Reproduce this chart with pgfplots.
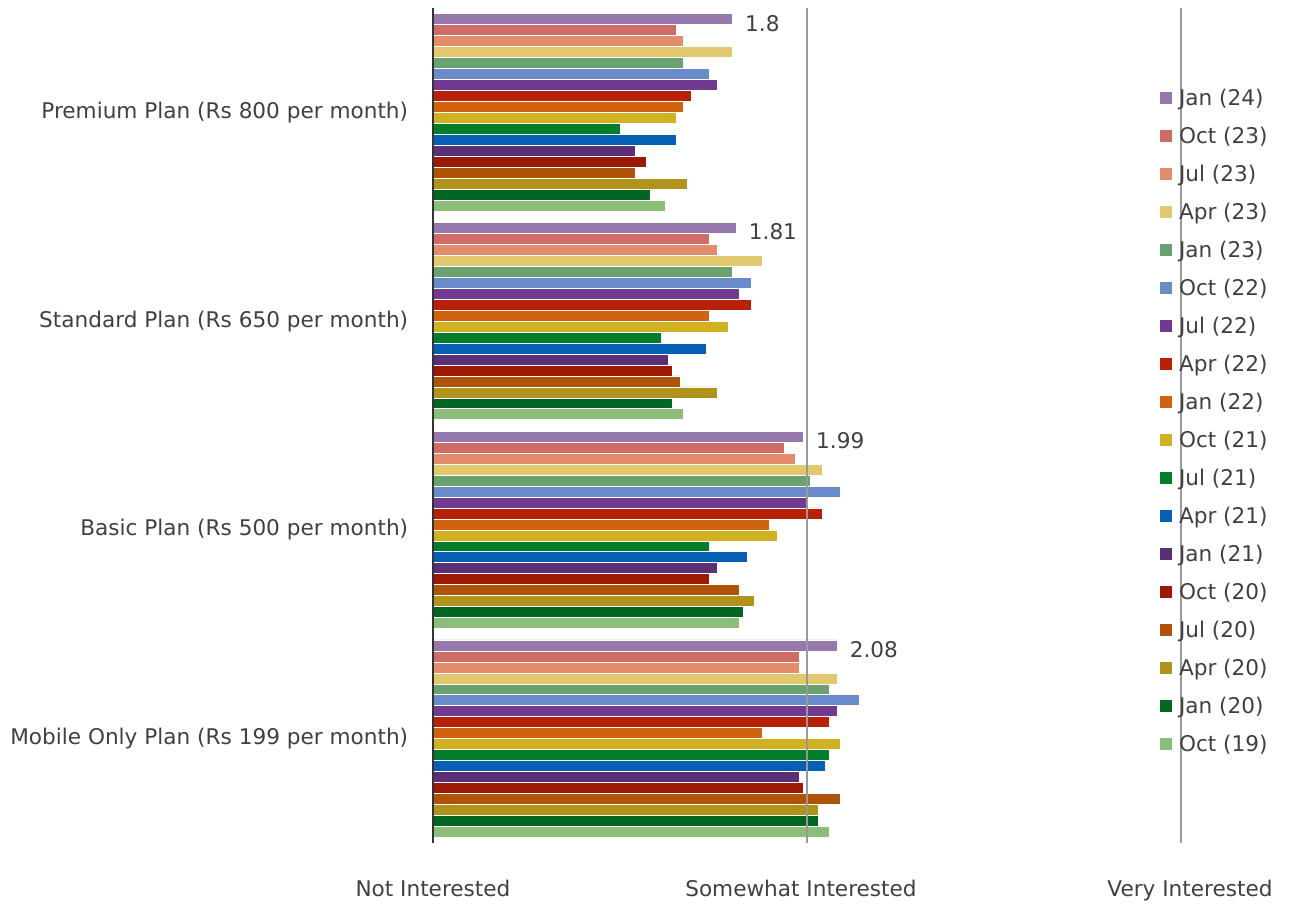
\documentclass[border=0pt]{standalone}
\usepackage{pgfplots}
\pgfplotsset{compat=1.18}
\usepackage{fontspec}
\setmainfont{DejaVu Sans}
\definecolor{cJanA}{HTML}{9778AD}
\definecolor{cOctB}{HTML}{D06C66}
\definecolor{cJulB}{HTML}{E28C6C}
\definecolor{cAprB}{HTML}{E1C76E}
\definecolor{cJanB}{HTML}{68A36F}
\definecolor{cOctC}{HTML}{6A8BC9}
\definecolor{cJulC}{HTML}{6F3A8F}
\definecolor{cAprC}{HTML}{B82007}
\definecolor{cJanC}{HTML}{D06210}
\definecolor{cOctD}{HTML}{D0B122}
\definecolor{cJulD}{HTML}{007E2C}
\definecolor{cAprD}{HTML}{055FB5}
\definecolor{cJanD}{HTML}{5A2F76}
\definecolor{cOctE}{HTML}{9C1A05}
\definecolor{cJulE}{HTML}{AF520A}
\definecolor{cAprE}{HTML}{AF931A}
\definecolor{cJanE}{HTML}{006622}
\definecolor{cOctF}{HTML}{8BBE78}
\definecolor{txt}{HTML}{404040}
\begin{document}
\begin{tikzpicture}[font=\fontsize{10.8}{13}\selectfont]
\begin{axis}[
  name=ax,
  scale only axis,
  width=374pt, height=417.5pt,
  xbar=0pt, bar width=5.48pt,
  xmin=1, xmax=3, ymin=-0.5, ymax=3.5,
  axis lines*=left,
  x axis line style={draw=none},
  y axis line style={draw=black!80, line width=1pt},
  xtick={1,2,3},
  xticklabels={Not Interested, Somewhat Interested\hspace*{6pt}, \hspace*{9pt}Very Interested},
  ytick={0,1,2,3},
  yticklabels={Mobile Only Plan (Rs 199 per month), Basic Plan (Rs 500 per month), Standard Plan (Rs 650 per month), Premium Plan (Rs 800 per month)},
  major tick length=0pt,
  xmajorgrids,
  grid style={color=black!40, line width=0.8pt},
  axis on top,
  tick label style={text=txt, font=\fontsize{10.8}{13}\selectfont},
  xticklabel style={yshift=-15pt},
  yticklabel style={xshift=-8.9pt},
  /pgf/number format/assume math mode=true,
  every axis plot post/.append style={
    draw=white, line width=0.3pt,
    legend image code/.code={\fill[##1] (0pt,-2.35pt) rectangle (6.5pt,4.15pt);}
  },
  reverse legend,
  legend cell align=left,
  legend style={at={(0.9706,0.9056)}, anchor=north west, draw=none, fill=none,
    inner sep=0pt, row sep=6.5pt, column sep=2pt,
    nodes={inner sep=1pt, text height=8pt, text depth=2.5pt, text=txt},
    font=\fontsize{10.8}{13}\selectfont},
]
\addplot[fill=cOctF] coordinates {(1.62,3) (1.67,2) (1.82,1) (2.06,0)};
\addlegendentry{Oct (19)}
\addplot[fill=cJanE] coordinates {(1.58,3) (1.64,2) (1.83,1) (2.03,0)};
\addlegendentry{Jan (20)}
\addplot[fill=cAprE] coordinates {(1.68,3) (1.76,2) (1.86,1) (2.03,0)};
\addlegendentry{Apr (20)}
\addplot[fill=cJulE] coordinates {(1.54,3) (1.66,2) (1.82,1) (2.09,0)};
\addlegendentry{Jul (20)}
\addplot[fill=cOctE] coordinates {(1.57,3) (1.64,2) (1.74,1) (1.99,0)};
\addlegendentry{Oct (20)}
\addplot[fill=cJanD] coordinates {(1.54,3) (1.63,2) (1.76,1) (1.98,0)};
\addlegendentry{Jan (21)}
\addplot[fill=cAprD] coordinates {(1.65,3) (1.73,2) (1.84,1) (2.05,0)};
\addlegendentry{Apr (21)}
\addplot[fill=cJulD] coordinates {(1.50,3) (1.61,2) (1.74,1) (2.06,0)};
\addlegendentry{Jul (21)}
\addplot[fill=cOctD] coordinates {(1.65,3) (1.79,2) (1.92,1) (2.09,0)};
\addlegendentry{Oct (21)}
\addplot[fill=cJanC] coordinates {(1.67,3) (1.74,2) (1.90,1) (1.88,0)};
\addlegendentry{Jan (22)}
\addplot[fill=cAprC] coordinates {(1.69,3) (1.85,2) (2.04,1) (2.06,0)};
\addlegendentry{Apr (22)}
\addplot[fill=cJulC] coordinates {(1.76,3) (1.82,2) (2.00,1) (2.08,0)};
\addlegendentry{Jul (22)}
\addplot[fill=cOctC] coordinates {(1.74,3) (1.85,2) (2.09,1) (2.14,0)};
\addlegendentry{Oct (22)}
\addplot[fill=cJanB] coordinates {(1.67,3) (1.80,2) (2.01,1) (2.06,0)};
\addlegendentry{Jan (23)}
\addplot[fill=cAprB] coordinates {(1.80,3) (1.88,2) (2.04,1) (2.08,0)};
\addlegendentry{Apr (23)}
\addplot[fill=cJulB] coordinates {(1.67,3) (1.76,2) (1.97,1) (1.98,0)};
\addlegendentry{Jul (23)}
\addplot[fill=cOctB] coordinates {(1.65,3) (1.74,2) (1.94,1) (1.98,0)};
\addlegendentry{Oct (23)}
\addplot[fill=cJanA, nodes near coords,
  every node near coord/.append style={text=txt, xshift=3pt, yshift=-2pt,
    font=\fontsize{10.8}{13}\selectfont}]
  coordinates {(1.8,3) (1.81,2) (1.99,1) (2.08,0)};
\addlegendentry{Jan (24)}
\end{axis}
\path ([xshift=-216.5pt,yshift=-30.5pt]ax.south west) rectangle ([xshift=54.5pt,yshift=4pt]ax.north east);
\end{tikzpicture}
\end{document}
